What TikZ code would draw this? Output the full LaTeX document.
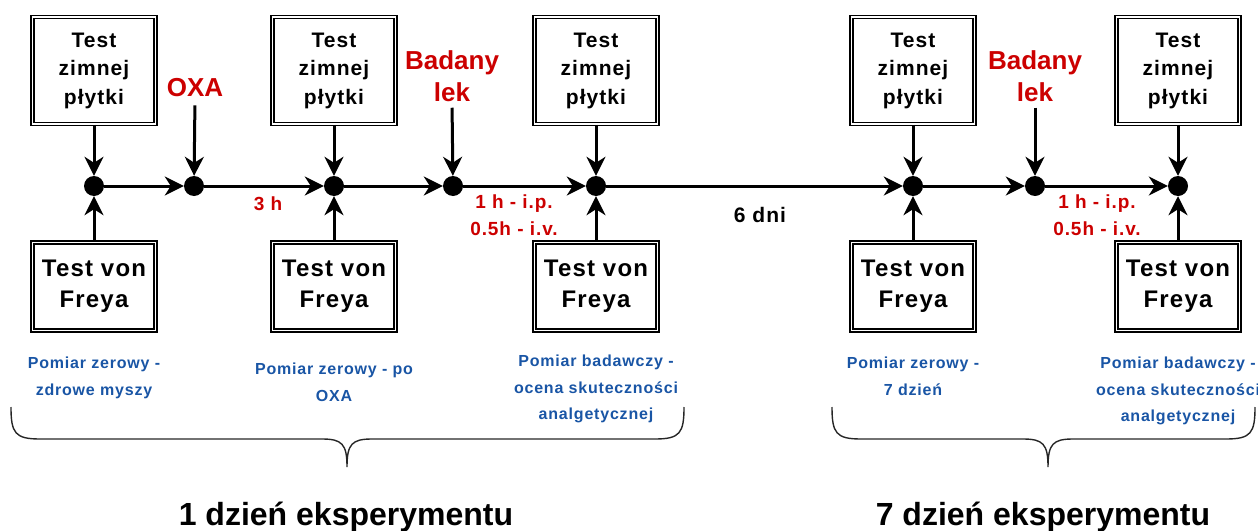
\documentclass[tikz,border=0pt]{standalone}
\usepackage{fontspec}
\setmainfont{Liberation Sans}
\newfontfamily\widesans{Liberation Sans}[LetterSpace=5]
\usetikzlibrary{arrows.meta}
\definecolor{labred}{RGB}{204,0,0}
\definecolor{noteblue}{RGB}{25,85,165}
\tikzset{
  testbox/.style={draw, double, line width=1.5pt, double distance=1.6pt,
    align=center, inner sep=0pt, minimum width=123pt},
  coldbox/.style={testbox, minimum height=107pt, font=\widesans\bfseries\fontsize{21}{28.5}\selectfont},
  freybox/.style={testbox, minimum height=88pt, font=\widesans\bfseries\fontsize{24}{31}\selectfont},
  dot/.style={circle, fill=black, minimum size=20pt, inner sep=0pt},
  flow/.style={line width=3pt, -{Stealth[length=19pt,width=19pt,inset=6pt]}},
  drug/.style={text=labred, font=\bfseries\fontsize{26}{32}\selectfont, align=center, inner sep=0pt},
  timing/.style={text=labred, font=\widesans\bfseries\fontsize{19}{26.5}\selectfont, align=center, inner sep=0pt},
  note/.style={text=noteblue, font=\widesans\bfseries\fontsize{16}{26.5}\selectfont, align=center, inner sep=0pt, anchor=north},
  brace/.style={line width=1.4pt, black!85},
  daylabel/.style={font=\bfseries\fontsize{32}{36}\selectfont, anchor=base, inner sep=0pt}
}
\begin{document}
\begin{tikzpicture}[x=1pt,y=-1pt]
\useasboundingbox (0,0) rectangle (1258,530);

% timeline points
\node[dot] (d1)   at (94,186) {};
\node[dot] (dox)  at (194,186) {};
\node[dot] (d2)   at (334,186) {};
\node[dot] (dbl)  at (453,186) {};
\node[dot] (d3)   at (596,186) {};
\node[dot] (d4)   at (913,186) {};
\node[dot] (dbl2) at (1035,186) {};
\node[dot] (d5)   at (1178,186) {};

% cold plate tests
\foreach \i/\x in {1/94,2/334,3/596,4/913,5/1178}
  \node[coldbox] (t\i) at (\x,70.5) {Test\\zimnej\\płytki};
% von Frey tests
\foreach \i/\x in {1/94,2/334,3/596,4/913,5/1178}
  \node[freybox] (f\i) at (\x,286.5) {Test von\\Freya};

% substances
\node[drug] (oxa) at (195,88) {OXA};
\node[drug] (lek1) at (452,76) {Badany\\lek};
\node[drug] (lek2) at (1035,76) {Badany\\lek};

% vertical connectors
\foreach \a/\b in {t1/d1,t2/d2,t3/d3,t4/d4,t5/d5,f1/d1,f2/d2,f3/d3,f4/d4,f5/d5}
  \draw[flow] (\a) -- (\b);
\draw[flow, shorten <=8pt] (oxa.south) -- (dox);
\draw[flow, shorten <=6pt] (lek1.south) -- (dbl);
\draw[flow, shorten <=6pt] (lek2.south) -- (dbl2);

% time axis
\draw[flow] (d1) -- (dox);
\draw[flow] (dox) -- (d2);
\draw[flow] (d2) -- (dbl);
\draw[flow] (dbl) -- (d3);
\draw[flow] (d3) -- (d4);
\draw[flow] (d4) -- (dbl2);
\draw[flow] (dbl2) -- (d5);

% intervals
\node[timing] (h3) at (268,204) {3 h};
\node[timing] (h1a) at (514,215) {1 h - i.p.\\0.5h - i.v.};
\node[timing] (h1b) at (1097,215) {1 h - i.p.\\0.5h - i.v.};
\node[font=\widesans\bfseries\fontsize{21}{26}\selectfont, inner sep=0pt] (dni) at (760,215) {6 dni};

% measurement notes
\node[note] (n1) at (94,357) {Pomiar zerowy -\\zdrowe myszy};
\node[note] (n2) at (334,363) {Pomiar zerowy - po\\OXA};
\node[note] (n3) at (596,355) {Pomiar badawczy -\\ocena skuteczności\\analgetycznej};
\node[note] (n4) at (913,357) {Pomiar zerowy -\\7 dzień};
\node[note] (n5) at (1178,357) {Pomiar badawczy -\\ocena skuteczności\\analgetycznej};

% day braces
\draw[brace] (11,407) .. controls (11,433) and (15,439) .. (40,439) -- (322,439)
  .. controls (342,439) and (347,444) .. (347,467)
  .. controls (347,444) and (352,439) .. (372,439) -- (655,439)
  .. controls (680,439) and (684,433) .. (684,407);
\draw[brace] (832,407) .. controls (832,433) and (836,439) .. (861,439) -- (1023,439)
  .. controls (1043,439) and (1048,444) .. (1048,467)
  .. controls (1048,444) and (1053,439) .. (1073,439) -- (1226,439)
  .. controls (1251,439) and (1255,433) .. (1255,407);

\node[daylabel] (day1) at (346,525) {1 dzień eksperymentu};
\node[daylabel] (day7) at (1043,525) {7 dzień eksperymentu};
\end{tikzpicture}
\end{document}
